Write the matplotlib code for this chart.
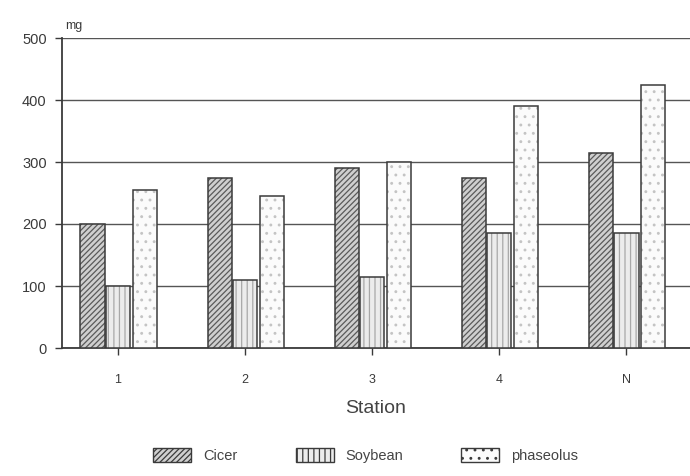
import numpy as np
import matplotlib
matplotlib.use("Agg")
import matplotlib.pyplot as plt

# values (mg)
stations = ['1', '2', '3', '4', 'N']
cicer = [200, 275, 290, 275, 315]
soybean = [100, 110, 115, 185, 185]
phaseolus = [255, 245, 300, 390, 425]
yticks = [0, 100, 200, 300, 400, 500]

plt.rcParams['font.family'] = ['Liberation Sans', 'DejaVu Sans']
plt.rcParams['hatch.linewidth'] = 0.9

fig = plt.figure(figsize=(6.9, 4.76), dpi=100)
ax = fig.add_axes([62 / 690, 1 - 348 / 476, 628 / 690, 310 / 476])

x = np.arange(1, len(stations) + 1)
w = 0.19
ink = '#3a3a3a'

# each series: (values, offset, fill, hatch colour, hatch, label)
series = [
    (cicer, -0.2, '#cfcfcf', '#5a5a5a', '//////', 'Cicer'),
    (soybean, 0.0, '#ececec', '#a8a8a8', '|||', 'Soybean'),
    (phaseolus, 0.21, '#fbfbfb', '#c4c4c4', '..', 'phaseolus'),
]
handles = []
for vals, off, fill, hcol, hatch, lab in series:
    ax.bar(x + off, vals, w, color=fill, edgecolor=hcol, hatch=hatch,
           linewidth=0, zorder=3)
    ax.bar(x + off, vals, w, fill=False, edgecolor=ink, linewidth=1.1, zorder=4)
    handles.append(plt.Rectangle((0, 0), 1, 1, facecolor=fill, edgecolor=hcol,
                                 hatch=hatch, linewidth=0))

ax.set_xlim(0.56, 5.5)
ax.set_ylim(0, 500)
ax.set_yticks(yticks)
ax.set_yticklabels([str(v) for v in yticks])
ax.set_xticks(x)
ax.set_xticklabels(stations)

ax.grid(axis='y', color='#555555', linewidth=1.0, zorder=0)
ax.set_axisbelow(True)
for s in ['top', 'right']:
    ax.spines[s].set_visible(False)
for s in ['left', 'bottom']:
    ax.spines[s].set_color(ink)
    ax.spines[s].set_linewidth(1.3)

ax.tick_params(axis='y', length=5, width=1, colors=ink, labelsize=10.5, pad=6)
ax.tick_params(axis='x', length=5, width=1, colors=ink, labelsize=9, pad=14)

ax.set_xlabel('Station', fontsize=14, color='#444444', labelpad=10)
ax.text(0.005, 1.03, 'mg', transform=ax.transAxes, fontsize=9, color=ink)

leg = fig.legend(handles, [s[5] for s in series], loc='lower center',
                 bbox_to_anchor=(0.53, 0.0), ncol=3, frameon=False, fontsize=10.5,
                 handlelength=2.6, handleheight=1.1, columnspacing=4.0,
                 labelcolor='#444444')
for p in leg.get_patches():
    p.set_edgecolor(ink)
    p.set_linewidth(1.0)

fig.savefig('out.png', dpi=100, facecolor='white')
